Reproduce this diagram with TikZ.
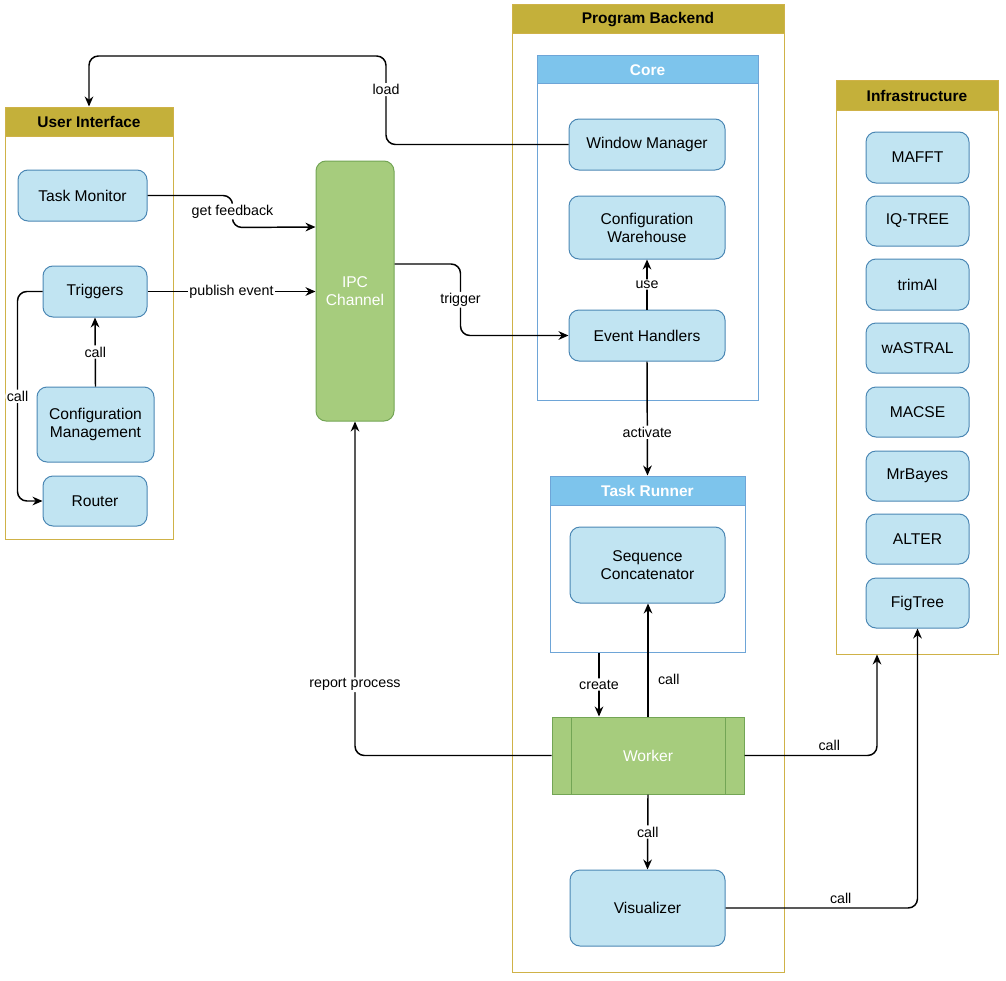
\documentclass[tikz,border=0pt]{standalone}
\usepackage{fontspec}
\setmainfont{Liberation Sans}
\usetikzlibrary{fit,arrows.meta}
\definecolor{gold}{RGB}{207,178,72}
\definecolor{goldhead}{RGB}{196,176,58}
\definecolor{coreb}{RGB}{110,165,215}
\definecolor{corehead}{RGB}{125,196,236}
\definecolor{boxfill}{RGB}{193,228,242}
\definecolor{boxline}{RGB}{75,135,180}
\definecolor{gfill}{RGB}{166,204,125}
\definecolor{gline}{RGB}{115,165,85}
\newcommand{\nf}{\fontsize{11.7}{13.5}\selectfont}
\newcommand{\hf}{\fontsize{11.6}{14}\selectfont\bfseries}
\begin{document}
\begin{tikzpicture}[x=0.75pt,y=-0.75pt,
  box/.style={draw=boxline, fill=boxfill, rounded corners=7.5pt, inner sep=0pt, line width=0.75pt},
  cont/.style={draw=gold, inner sep=0pt, line width=0.75pt},
  conthead/.style={draw=gold, fill=goldhead, inner sep=0pt, line width=0.75pt},
  subcont/.style={draw=coreb, inner sep=0pt, line width=0.75pt},
  subhead/.style={draw=coreb, fill=corehead, inner sep=0pt, line width=0.75pt},
  gbox/.style={draw=gline, fill=gfill, inner sep=0pt, line width=0.75pt},
  ntext/.style={font=\nf, align=center},
  wtext/.style={font=\nf, align=center, text=white},
  htext/.style={font=\hf},
  whtext/.style={font=\hf, text=white},
  conn/.style={line width=1.1pt, rounded corners=7pt, -{Stealth[length=7.5pt,width=6.5pt]}},
  lbl/.style={fill=white, inner sep=1pt, font=\fontsize{10.7}{12}\selectfont},
  plbl/.style={inner sep=1pt, font=\fontsize{10.7}{12}\selectfont}
]
\useasboundingbox (0,0) rectangle (1006,981);

% ---------- User Interface ----------
\node[cont, fit={(5,107) (173,539)}] (ui) {};
\node[conthead, fit={(5,107) (173,136)}] (uih) {};
\node[htext] (uit) at (uih.center) {User Interface};
\node[box, fit={(18,170) (147,221)}] (tm) {};
\node[ntext] (tmt) at (tm.center) {Task Monitor};
\node[box, fit={(43,266) (147,317)}] (trig) {};
\node[ntext] (trigt) at (trig.center) {Triggers};
\node[box, fit={(37,387) (154,462)}] (cm) {};
\node[ntext] (cmt) at (cm.center) {Configuration\\Management};
\node[box, fit={(43,476) (147,526)}] (router) {};
\node[ntext] (routert) at (router.center) {Router};

% ---------- IPC ----------
\node[gbox, rounded corners=7.5pt, fit={(316,161) (394,421)}] (ipc) {};
\node[wtext] (ipct) at (ipc.center) {IPC\\Channel};

% ---------- Program Backend ----------
\node[cont, fit={(512,5) (784,972)}] (pb) {};
\node[conthead, fit={(512,5) (784,34)}] (pbh) {};
\node[htext] (pbt) at (pbh.center) {Program Backend};

\node[subcont, fit={(537,56) (758,400)}] (core) {};
\node[subhead, fit={(537,56) (758,84)}] (coreh) {};
\node[whtext] (coret) at (coreh.center) {Core};
\node[box, fit={(569,119) (725,170)}] (wm) {};
\node[ntext] (wmt) at (wm.center) {Window Manager};
\node[box, fit={(569,196) (725,259)}] (cw) {};
\node[ntext] (cwt) at (cw.center) {Configuration\\Warehouse};
\node[box, fit={(569,310) (725,361)}] (eh) {};
\node[ntext] (eht) at (eh.center) {Event Handlers};

\node[subcont, fit={(550,476) (745,652)}] (tr) {};
\node[subhead, fit={(550,476) (745,505)}] (trh) {};
\node[whtext] (trt) at (trh.center) {Task Runner};
\node[box, fit={(570,527) (725,603)}] (sc) {};
\node[ntext] (sct) at (sc.center) {Sequence\\Concatenator};

\node[gbox, fit={(552,717) (744,794)}] (wk) {};
\draw[gline, line width=0.75pt] (571,717) -- (571,794) (725,717) -- (725,794);
\node[wtext] (wkt) at (wk.center) {Worker};

\node[box, fit={(570,870) (725,946)}] (vis) {};
\node[ntext] (vist) at (vis.center) {Visualizer};

% ---------- Infrastructure ----------
\node[cont, fit={(836,81) (998,654)}] (infra) {};
\node[conthead, fit={(836,81) (998,110)}] (infrah) {};
\node[htext] (infrat) at (infrah.center) {Infrastructure};
\foreach \nm/\txt/\ya/\yb in {mafft/MAFFT/132/183, iq/IQ-TREE/196/246, trim/trimAl/259/310,
  wa/wASTRAL/323/373, macse/MACSE/387/437, mrb/MrBayes/451/501, alter/ALTER/514/564, ft/FigTree/578/628}{
  \node[box, fit={(866,\ya) (969,\yb)}] (\nm) {};
  \node[ntext] (\nm t) at (\nm.center) {\txt};
}

% ---------- Connectors ----------
\draw[conn] (trig.west) -- ++(-25,0) |- node[lbl, pos=0.25]{call} (router.west);
\draw[conn] (cm.north) -- node[lbl]{call} (trig.south);
\draw[conn] (tm.east) -- ++(85,0) -- node[lbl]{get feedback} ++(0,32) -- (ipc.west |- 0,227);
\draw[conn] (trig.east) -- node[lbl]{publish event} (ipc.west |- trig.east);
\draw[conn] (ipc.east |- 0,264) -- ++(66,0) |- node[lbl, pos=0.25]{trigger} (eh.west);
\draw[conn] (wm.west) -| node[lbl, pos=0.81]{load} (386,56) -| (ui.north);
\draw[conn] (eh.north) -- node[lbl]{use} (cw.south);
\draw[conn] (eh.south) -- node[lbl, pos=0.62]{activate} (tr.north);
\draw[conn] (tr.south -| 599,0) -- node[lbl]{create} (wk.north -| 599,0);
\draw[conn] (wk.north -| 648,0) -- node[plbl, anchor=west, pos=0.33, xshift=6pt]{call} (sc.south -| 648,0);
\draw[conn] (wk.west) -| node[lbl, pos=0.606]{report process} (ipc.south);
\draw[conn] (wk.east) -| node[plbl, above, pos=0.32, yshift=2pt]{call} (infra.south -| 877,0);
\draw[conn] (wk.south) -- node[lbl]{call} (vis.north);
\draw[conn] (vis.east) -| node[plbl, above, pos=0.3, yshift=2pt]{call} (ft.south);
\end{tikzpicture}
\end{document}
